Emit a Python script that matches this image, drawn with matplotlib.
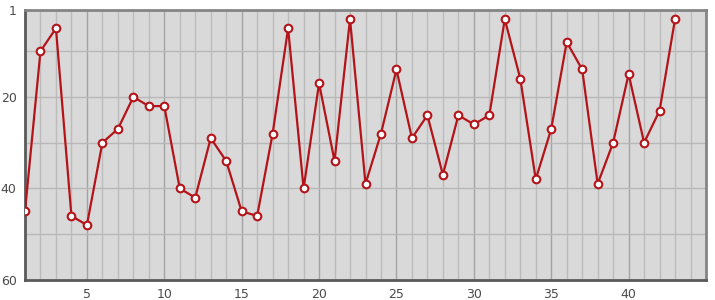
import numpy as np
import matplotlib
matplotlib.use("Agg")
import matplotlib.pyplot as plt
from matplotlib.ticker import MultipleLocator, FixedLocator

# data
positions = list(range(1, 44))
ranks = [45, 10, 5, 46, 48, 30, 27, 20, 22, 22,
         40, 42, 29, 34, 45, 46, 28, 5, 40, 17,
         34, 3, 39, 28, 14, 29, 24, 37, 24, 26,
         24, 3, 16, 38, 27, 8, 14, 39, 30, 15,
         30, 23, 3]
x_ticks = [5, 10, 15, 20, 25, 30, 35, 40]
y_ticks = [1, 20, 40, 60]
y_minor = [10, 30, 50]

fig = plt.figure(figsize=(7.15, 3.0), dpi=100)
ax = fig.add_axes([25 / 715, 20 / 300, 681 / 715, 270 / 300])
ax.set_facecolor("#d9d9d9")

ax.plot(positions, ranks, "-", color="#b41419", lw=1.6, zorder=3,
        marker="o", markersize=5.5, markerfacecolor="white",
        markeredgecolor="#b41419", markeredgewidth=1.5)

ax.set_xlim(1, 45)
ax.set_ylim(60, 1)
ax.xaxis.set_major_locator(FixedLocator(x_ticks))
ax.xaxis.set_minor_locator(MultipleLocator(1))
ax.yaxis.set_major_locator(FixedLocator(y_ticks))
ax.yaxis.set_minor_locator(FixedLocator(y_minor))

ax.grid(True, which="major", axis="x", color="#a3a3a3", lw=1.0, zorder=1)
ax.grid(True, which="minor", axis="x", color="#bcbcbc", lw=1.0, zorder=1)
ax.grid(True, which="both", axis="y", color="#b8b8b8", lw=1.0, zorder=1)
ax.set_axisbelow(True)

ax.tick_params(which="both", length=0, labelsize=9, colors="#4a4a4a")
ax.tick_params(axis="x", pad=6)
ax.tick_params(axis="y", pad=6)
for name, sp in ax.spines.items():
    sp.set_linewidth(2.0)
    sp.set_color("#5a5a5a" if name in ("left", "bottom") else "#858585")

plt.savefig("out.png", dpi=100)
plt.close()
